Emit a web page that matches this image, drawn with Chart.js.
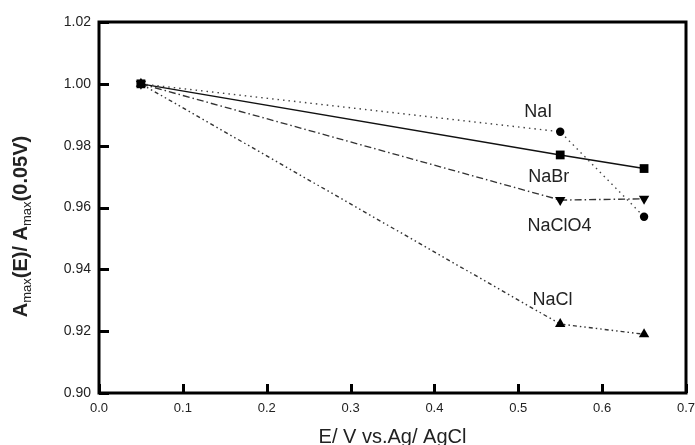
<!DOCTYPE html>
<html><head><meta charset="utf-8">
<script src="https://cdn.jsdelivr.net/npm/chart.js@4/dist/chart.umd.min.js"></script>
<style>html,body{margin:0;padding:0;background:#fff}#wrap{width:695px;height:445px}</style>
</head><body><div id="wrap"><canvas id="c" width="695" height="445"></canvas></div>
<script>
// ---- data ----
const potentials = [0.05, 0.55, 0.65];
const naI    = [1.000, 0.9845, 0.957];
const naBr   = [1.000, 0.977, 0.9726];
const naClO4 = [1.000, 0.9624, 0.9628];
const naCl   = [1.000, 0.9223, 0.919];
const seriesNames = ['NaI', 'NaBr', 'NaClO4', 'NaCl'];
const xTicks = [0.0, 0.1, 0.2, 0.3, 0.4, 0.5, 0.6, 0.7];
const yTicks = [0.90, 0.92, 0.94, 0.96, 0.98, 1.00, 1.02];
const xTitle = 'E/ V vs.Ag/ AgCl';
const yTitleParts = [['A', false], ['max', true], ['(E)/ A', false], ['max', true], ['(0.05V)', false]];
// in-plot series labels, anchored in data coordinates (x, y of text baseline-left)
const labelX = [0.507, 0.512, 0.511, 0.517];
const labelY = [0.9893, 0.9682, 0.9524, 0.9285];

const FONT = '"Liberation Sans", Arial, sans-serif';

function pts(ys) { return potentials.map((x, i) => ({x: x, y: ys[i]})); }

const styles = [
  {data: naI, pointStyle: 'circle', radius: 4.2, rot: 0, dash: [1.5, 4], color: '#444'},
  {data: naBr, pointStyle: 'rect', radius: 6.2, rot: 0, dash: [], color: '#111'},
  {data: naClO4, pointStyle: 'triangle', radius: 6, rot: 180, dash: [7, 3, 1.5, 3], color: '#333'},
  {data: naCl, pointStyle: 'triangle', radius: 6, rot: 0, dash: [4, 3, 1.5, 3, 1.5, 3], color: '#333'}
];

const datasets = styles.map((s, i) => ({
  label: seriesNames[i],
  data: pts(s.data),
  borderColor: s.color,
  borderWidth: 1.4,
  borderDash: s.dash,
  pointStyle: s.pointStyle,
  pointRadius: s.radius,
  pointRotation: s.rot,
  pointBackgroundColor: '#000',
  pointBorderColor: '#000',
  pointBorderWidth: 0,
  showLine: true,
  tension: 0,
  fill: false
}));

const framePlugin = {
  id: 'frame',
  afterDraw(chart) {
    const ctx = chart.ctx;
    const a = chart.chartArea;
    const xs = chart.scales.x, ys = chart.scales.y;
    ctx.save();
    ctx.strokeStyle = '#000';
    ctx.lineWidth = 3;
    ctx.strokeRect(a.left, a.top, a.right - a.left, a.bottom - a.top);
    // inward ticks
    ctx.lineWidth = 3;
    ctx.beginPath();
    yTicks.forEach(v => {
      const y = Math.round(ys.getPixelForValue(v)) + 0.5;
      ctx.moveTo(a.left, y); ctx.lineTo(a.left + 10, y);
    });
    xTicks.forEach(v => {
      const x = Math.round(xs.getPixelForValue(v)) + 0.5;
      ctx.moveTo(x, a.bottom); ctx.lineTo(x, a.bottom - 9);
    });
    ctx.stroke();
    // series labels
    ctx.fillStyle = '#222';
    ctx.font = '18px ' + FONT;
    ctx.textBaseline = 'alphabetic';
    ctx.textAlign = 'left';
    seriesNames.forEach((n, i) => {
      ctx.fillText(n, xs.getPixelForValue(labelX[i]), ys.getPixelForValue(labelY[i]));
    });
    // x title
    ctx.font = '20px ' + FONT;
    ctx.textAlign = 'center';
    ctx.textBaseline = 'middle';
    ctx.fillText(xTitle, (a.left + a.right) / 2, 437);
    // y title with subscripts
    ctx.translate(21, (a.top + a.bottom) / 2 + 19);
    ctx.rotate(-Math.PI / 2);
    const big = 'bold 20px ' + FONT, small = '13px ' + FONT;
    let total = 0;
    yTitleParts.forEach(p => { ctx.font = p[1] ? small : big; total += ctx.measureText(p[0]).width; });
    let x = -total / 2;
    ctx.textAlign = 'left';
    ctx.textBaseline = 'alphabetic';
    yTitleParts.forEach(p => {
      ctx.font = p[1] ? small : big;
      ctx.fillText(p[0], x, p[1] ? 10 : 6);
      x += ctx.measureText(p[0]).width;
    });
    ctx.restore();
  }
};

new Chart(document.getElementById('c'), {
  type: 'scatter',
  data: {datasets: datasets},
  options: {
    responsive: false,
    animation: false,
    devicePixelRatio: 1,
    layout: {padding: {top: 22, right: 9, left: 0, bottom: 0}},
    plugins: {legend: {display: false}, tooltip: {enabled: false}},
    scales: {
      x: {
        type: 'linear', min: 0, max: 0.7,
        afterBuildTicks(s) { s.ticks = xTicks.map(v => ({value: v})); },
        afterFit(s) { s.height = 52; s.paddingLeft = 0; s.paddingRight = 0; },
        grid: {display: false, drawTicks: false},
        border: {display: false},
        ticks: {padding: 8, color: '#222', font: {family: FONT, size: 13}, maxRotation: 0,
          callback: v => Number(v).toFixed(1)}
      },
      y: {
        type: 'linear', min: 0.90, max: 1.02,
        afterBuildTicks(s) { s.ticks = yTicks.map(v => ({value: v})); },
        afterFit(s) { s.width = 99; s.paddingTop = 0; s.paddingBottom = 0; },
        grid: {display: false, drawTicks: false},
        border: {display: false},
        ticks: {padding: 8, color: '#222', font: {family: FONT, size: 14},
          callback: v => Number(v).toFixed(2)}
      }
    }
  },
  plugins: [framePlugin]
});
</script></body></html>
